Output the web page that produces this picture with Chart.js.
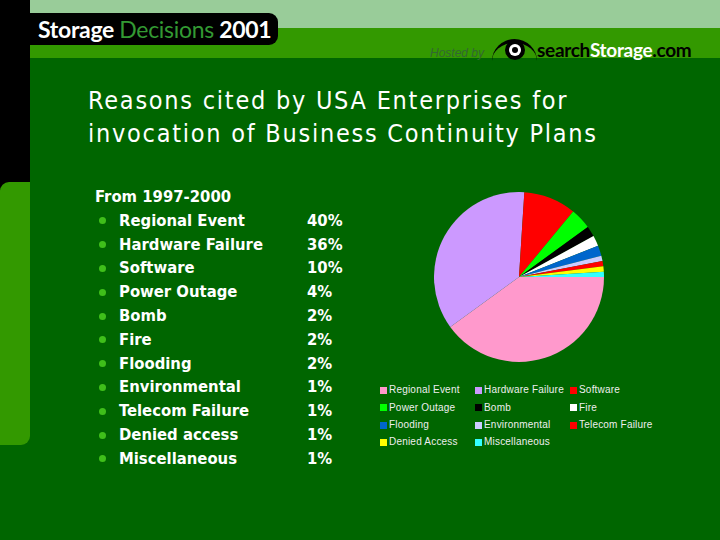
<!DOCTYPE html>
<html>
<head>
<meta charset="utf-8">
<script src="https://cdn.jsdelivr.net/npm/chart.js@4/dist/chart.umd.min.js"></script>
<style>
  html, body { margin:0; padding:0; }
  body { width:720px; height:540px; background:#006600; position:relative; overflow:hidden; font-family:"DejaVu Sans Condensed","DejaVu Sans",sans-serif; font-stretch:condensed; }
  .abs { position:absolute; }
  #lightBand { left:30px; top:0; width:690px; height:28px; background:#99CC99; }
  #midBand { left:30px; top:28px; width:690px; height:30px; background:#339900; border-top-left-radius:9px; }
  #blackStrip { left:0; top:0; width:30px; height:190px; background:#000; }
  #greenStrip { left:0; top:182px; width:30px; height:263px; background:#339900; border-top-left-radius:9px; border-bottom-right-radius:9px; }
  #logoBox { left:0; top:13px; width:278px; height:32px; background:#000; border-radius:0 9px 9px 0; }
  #logoText { left:38px; top:13px; height:32px; line-height:32px; font-family:Lato,"Open Sans",sans-serif; font-weight:700; font-size:23px; color:#fff; white-space:nowrap; letter-spacing:-0.3px; }
  #logoText .g { color:#339933; font-weight:400; }
  #hosted { left:430px; top:46px; font-family:"Liberation Sans",sans-serif; font-style:italic; font-size:12px; color:#336633; }
  #search { left:537px; top:38px; font-family:Lato,sans-serif; font-weight:700; font-size:19px; color:#000; white-space:nowrap; letter-spacing:-0.3px; }
  #search .w { color:#fff; }
  #eyeArc { left:492px; top:39px; width:45px; height:22px; border-top:4px solid #000; border-radius:50% 50% 0 0 / 100% 100% 0 0; box-sizing:border-box; }
  #eye { left:505px; top:40px; width:20px; height:20px; border-radius:50%; background:#000; }
  #eyeW { left:509px; top:44px; width:12px; height:12px; border-radius:50%; background:#fff; }
  #eyeD { left:512px; top:47px; width:6px; height:6px; border-radius:50%; background:#000; }
  #title { left:88px; top:84px; font-size:25px; line-height:33px; color:#fff; white-space:nowrap; letter-spacing:1.75px; }
  #list { left:0; top:185px; }
  .row { position:absolute; height:24px; line-height:24px; font-size:16.5px; font-weight:700; color:#fff; white-space:nowrap; }
  .dot { position:absolute; width:7px; height:7px; border-radius:50%; background:#3FBF1A; }
  #chartWrap { left:434px; top:192px; width:170px; height:170px; }
  .lg { position:absolute; font-family:"Liberation Sans",sans-serif; font-size:10px; color:#eeeeee; white-space:nowrap; line-height:12px; letter-spacing:0.2px; }
  .lgBox { position:absolute; width:7px; height:7px; }
</style>
</head>
<body>
<div id="lightBand" class="abs"></div>
<div id="midBand" class="abs"></div>
<div id="blackStrip" class="abs"></div>
<div id="greenStrip" class="abs"></div>
<div id="logoBox" class="abs"></div>
<div id="logoText" class="abs">Storage <span class="g">Decisions</span> 2001</div>
<div id="hosted" class="abs">Hosted by</div>
<div id="eyeArc" class="abs"></div>
<div id="eye" class="abs"></div>
<div id="eyeW" class="abs"></div>
<div id="eyeD" class="abs"></div>
<div id="search" class="abs">search<span class="w">Storage</span>.com</div>
<div id="title" class="abs">Reasons cited by USA Enterprises for<br>invocation of Business Continuity Plans</div>
<div id="list" class="abs"></div>
<div id="chartWrap" class="abs"><canvas id="pie" width="170" height="170"></canvas></div>
<div id="legend" class="abs" style="left:0;top:0;"></div>
<script>
// ---- data ----
const periodLabel = "From 1997-2000";
const categories = ["Regional Event","Hardware Failure","Software","Power Outage","Bomb","Fire","Flooding","Environmental","Telecom Failure","Denied Access","Miscellaneous"];
const listLabels = ["Regional Event","Hardware Failure","Software","Power Outage","Bomb","Fire","Flooding","Environmental","Telecom Failure","Denied access","Miscellaneous"];
const values = [40,36,10,4,2,2,2,1,1,1,1];
const colors = ["#FF99CC","#CC99FF","#FF0000","#00FF00","#000000","#FFFFFF","#0066CC","#CCCCFF","#FF0000","#FFFF00","#33FFFF"];

// ---- left list ----
const list = document.getElementById('list');
const rowH = 23.8;
function addRow(text, x, i) {
  const d = document.createElement('div');
  d.className = 'row';
  d.style.left = x + 'px';
  d.style.top = (i * rowH) + 'px';
  d.textContent = text;
  list.appendChild(d);
}
addRow(periodLabel, 95, 0);
listLabels.forEach((lab, k) => {
  const i = k + 1;
  const dot = document.createElement('div');
  dot.className = 'dot';
  dot.style.left = '98.5px';
  dot.style.top = (i * rowH + 8.5) + 'px';
  list.appendChild(dot);
  addRow(lab, 119, i);
  addRow(values[k] + '%', 307, i);
});

// ---- legend (3 columns) ----
const legend = document.getElementById('legend');
const colX = [380, 475, 570];
const rowY = [390, 407.5, 425, 442];
categories.forEach((lab, k) => {
  const c = k % 3, r = Math.floor(k / 3);
  const b = document.createElement('div');
  b.className = 'lgBox';
  b.style.left = colX[c] + 'px';
  b.style.top = (rowY[r] - 3.5) + 'px';
  b.style.background = colors[k];
  legend.appendChild(b);
  const t = document.createElement('div');
  t.className = 'lg';
  t.style.left = (colX[c] + 9) + 'px';
  t.style.top = (rowY[r] - 6) + 'px';
  t.textContent = lab;
  legend.appendChild(t);
});

// ---- pie ----
new Chart(document.getElementById('pie'), {
  type: 'pie',
  data: {
    labels: categories,
    datasets: [{ data: values, backgroundColor: colors, borderWidth: 0 }]
  },
  options: {
    responsive: false,
    devicePixelRatio: 1,
    animation: false,
    rotation: 90,
    layout: { padding: 0 },
    plugins: { legend: { display: false }, tooltip: { enabled: false } }
  }
});
</script>
</body>
</html>
